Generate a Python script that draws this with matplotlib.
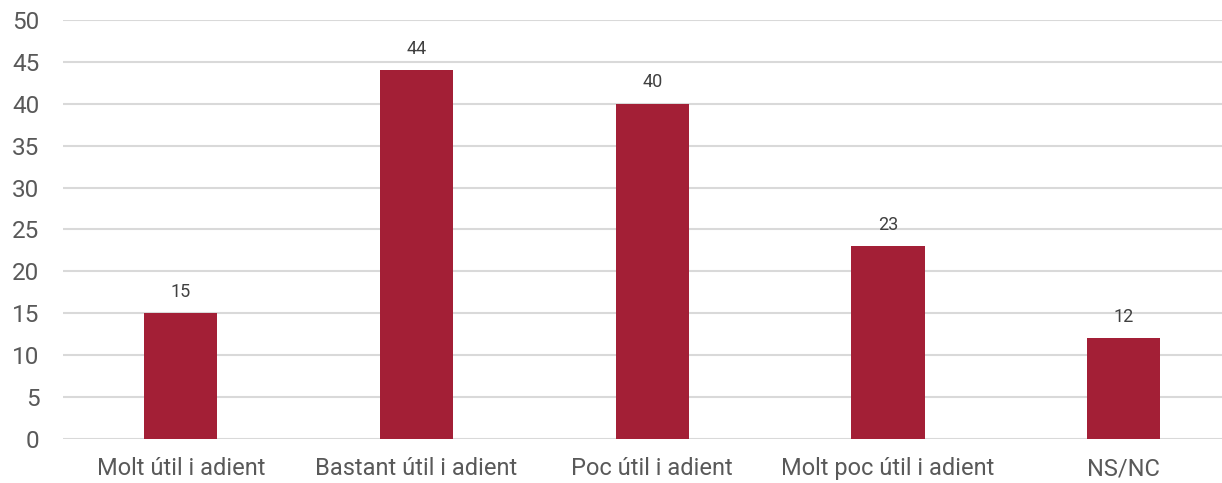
"""Bar chart: valoració de la utilitat."""

import matplotlib
matplotlib.use("Agg")
import matplotlib.pyplot as plt
import numpy as np

categories = ["Molt útil i adient", "Bastant útil i adient", "Poc útil i adient",
              "Molt poc útil i adient", "NS/NC"]
values = [15, 44, 40, 23, 12]
y_ticks = list(range(0, 55, 5))

plt.rcParams["font.family"] = ["Roboto", "DejaVu Sans"]

fig = plt.figure(figsize=(12.22, 4.83), dpi=100)
ax = fig.add_axes([0.0516, 0.0911, 0.9484, 0.8675])

x = np.arange(len(categories))
bars = ax.bar(x, values, width=0.31, color="#A31F36", zorder=3)

for xi, v in zip(x, values):
    ax.annotate(str(v), (xi, v), xytext=(0, 9), textcoords="offset points",
                ha="center", va="bottom", fontsize=13, color="#404040")

ax.set_xlim(-0.5, 4.417)
ax.set_ylim(0, 50)
ax.set_yticks(y_ticks)
ax.set_xticks(x)
ax.set_xticklabels(categories)
ax.tick_params(axis="y", length=0, pad=17, labelsize=17.5, labelcolor="#595959")
ax.tick_params(axis="x", length=0, pad=13, labelsize=17, labelcolor="#595959")
ax.grid(axis="y", color="#D9D9D9", linewidth=1.5, zorder=0)
for s in ax.spines.values():
    s.set_visible(False)

fig.savefig("out.png", dpi=100)
